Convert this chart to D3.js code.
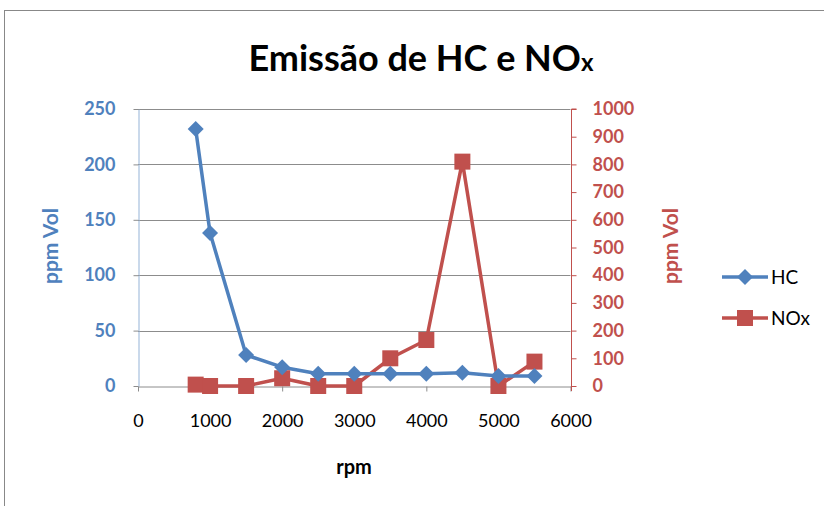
<!DOCTYPE html>
<html>
<head>
<meta charset="utf-8">
<script src="https://cdn.jsdelivr.net/npm/d3@7"></script>
<style>
  body { margin: 0; background: #fff; }
  text { font-family: Lato, "Open Sans", sans-serif; }
</style>
</head>
<body>
<svg></svg>
<script>
// data
const rpm = [800, 1000, 1500, 2000, 2500, 3000, 3500, 4000, 4500, 5000, 5500]
const hcValues = [232, 138, 28, 17, 11, 11, 11, 11, 12, 9, 9]
const noxValues = [5, 0, 0, 28, 0, 0, 100, 166, 810, 0, 88]
const xTicks = [0, 1000, 2000, 3000, 4000, 5000, 6000]
const leftTicks = [0, 50, 100, 150, 200, 250]
const rightTicks = [0, 100, 200, 300, 400, 500, 600, 700, 800, 900, 1000]

const width = 824
const height = 506
const blue = '#4f81bd'
const red = '#c0504d'

const svg = d3.select('svg')
    .attr('width', width)
    .attr('height', height)

// chart frame
svg.append('rect')
    .attr('x', 4.5).attr('y', 10.5)
    .attr('width', 830).attr('height', 510)
    .attr('fill', 'none')
    .attr('stroke', '#888')

let xScale = d3.scaleLinear().domain([0, 6000]).range([138, 570.5])
let yLeft = d3.scaleLinear().domain([0, 250]).range([386, 109])
let yRight = d3.scaleLinear().domain([0, 1000]).range([386, 109])

// gridlines
svg.append('g')
  .selectAll('line')
  .data(leftTicks.slice(1))
  .enter()
  .append('line')
    .attr('x1', xScale(0)).attr('x2', xScale(6000))
    .attr('y1', d => Math.round(yLeft(d)) + 0.5)
    .attr('y2', d => Math.round(yLeft(d)) + 0.5)
    .attr('stroke', '#8c8c8c')

// x axis
let xAxis = d3.axisBottom(xScale).tickValues(xTicks).tickFormat(d3.format('d'))
              .tickSize(5).tickSizeOuter(0).tickPadding(23)
let gx = svg.append('g')
    .attr('transform', `translate(0, ${Math.round(yLeft(0)) + 0.5})`)
    .call(xAxis)
gx.select('.domain').attr('stroke', '#8c8c8c')
gx.selectAll('.tick line').attr('stroke', '#8c8c8c')
gx.selectAll('text').attr('fill', '#000').style('font-size', '18px')

// left axis
let yAxisL = d3.axisLeft(yLeft).tickValues(leftTicks).tickFormat(d3.format('d'))
               .tickSize(5).tickSizeOuter(0).tickPadding(18)
let gl = svg.append('g')
    .attr('transform', `translate(${Math.round(xScale(0)) + 0.5}, 0)`)
    .call(yAxisL)
gl.select('.domain').attr('stroke', '#95b3d7')
gl.selectAll('.tick line').attr('stroke', '#8c8c8c')
gl.selectAll('text').attr('fill', blue).style('font-size', '18px').style('font-weight', 'bold')

// right axis
let yAxisR = d3.axisRight(yRight).tickValues(rightTicks).tickFormat(d3.format('d'))
               .tickSize(5).tickSizeOuter(0).tickPadding(16)
let gr = svg.append('g')
    .attr('transform', `translate(${Math.round(xScale(6000)) + 0.5}, 0)`)
    .call(yAxisR)
gr.select('.domain').attr('stroke', red)
  .attr('d', `M5,${yRight(1000)}H0V${yRight(0) + 5}`)
gr.selectAll('.tick line').attr('stroke', red)
gr.selectAll('text').attr('fill', red).style('font-size', '18px').style('font-weight', 'bold')

// lines
let hcLine = d3.line().x((d, i) => xScale(rpm[i])).y(d => yLeft(d))
let noxLine = d3.line().x((d, i) => xScale(rpm[i])).y(d => yRight(d))

svg.append('path')
    .attr('d', noxLine(noxValues))
    .attr('fill', 'none').attr('stroke', red).attr('stroke-width', 3.5)
    .attr('stroke-linejoin', 'round')

svg.append('path')
    .attr('d', hcLine(hcValues))
    .attr('fill', 'none').attr('stroke', blue).attr('stroke-width', 3.5)
    .attr('stroke-linejoin', 'round')

svg.append('g')
  .selectAll('rect')
  .data(noxValues)
  .enter()
  .append('rect')
    .attr('x', (d, i) => xScale(rpm[i]) - 8)
    .attr('y', d => yRight(d) - 8)
    .attr('width', 16).attr('height', 16)
    .attr('fill', red)

svg.append('g')
  .selectAll('path')
  .data(hcValues)
  .enter()
  .append('path')
    .attr('d', 'M0,-8L8,0L0,8L-8,0Z')
    .attr('transform', (d, i) => `translate(${xScale(rpm[i])}, ${yLeft(d)})`)
    .attr('fill', blue)

// title
let title = svg.append('text')
    .attr('x', 421)
    .attr('y', 71)
    .style('text-anchor', 'middle')
    .style('font-size', '36px')
    .style('font-weight', 'bold')
    .attr('fill', '#000')
title.append('tspan').text('Emissão de HC e NO')
title.append('tspan').style('font-size', '24px').text('x')

// axis titles
svg.append('text')
    .attr('transform', 'rotate(-90)')
    .attr('x', -246)
    .attr('y', 58)
    .style('text-anchor', 'middle')
    .style('font-size', '21px')
    .style('font-weight', 'bold')
    .attr('fill', blue)
    .text('ppm Vol')

svg.append('text')
    .attr('transform', 'rotate(-90)')
    .attr('x', -246)
    .attr('y', 678)
    .style('text-anchor', 'middle')
    .style('font-size', '21px')
    .style('font-weight', 'bold')
    .attr('fill', red)
    .text('ppm Vol')

svg.append('text')
    .attr('x', 354)
    .attr('y', 474)
    .style('text-anchor', 'middle')
    .style('font-size', '20px')
    .style('font-weight', 'bold')
    .attr('fill', '#000')
    .text('rpm')

// legend
const legendNames = ['HC', 'NOx']
const legendColors = [blue, red]
let legend = svg.append('g')
  .selectAll('g')
  .data(legendNames)
  .enter()
  .append('g')
    .attr('transform', (d, i) => `translate(722, ${277 + i * 41})`)
legend.append('line')
    .attr('x1', 0).attr('x2', 46)
    .attr('stroke', (d, i) => legendColors[i]).attr('stroke-width', 3.5)
legend.append('path')
    .attr('d', (d, i) => i === 0 ? 'M23,-8L31,0L23,8L15,0Z' : 'M15,-8H31V8H15Z')
    .attr('fill', (d, i) => legendColors[i])
legend.append('text')
    .attr('x', 49)
    .attr('y', 7)
    .style('font-size', '19px')
    .attr('fill', '#000')
    .text(d => d)
</script>
</body>
</html>
